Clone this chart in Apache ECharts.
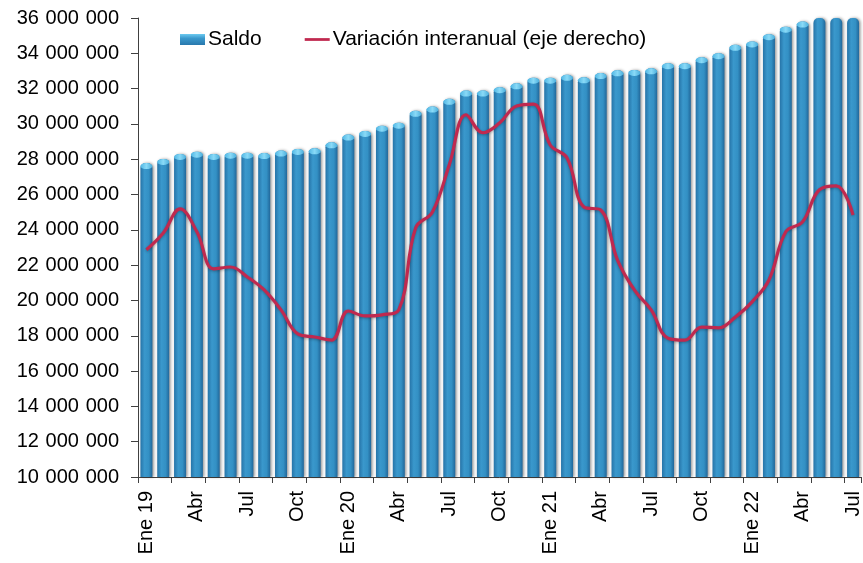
<!DOCTYPE html>
<html>
<head>
<meta charset="utf-8">
<script src="https://cdn.jsdelivr.net/npm/echarts@6/dist/echarts.min.js"></script>
<style>
  html, body { margin: 0; padding: 0; background: #fff; }
  #chart { width: 863px; height: 563px; }
</style>
</head>
<body>
<div id="chart"></div>
<script>
const categories = [
  'Ene 19','Feb 19','Mar 19','Abr 19','May 19','Jun 19','Jul 19','Ago 19','Sep 19','Oct 19','Nov 19','Dic 19',
  'Ene 20','Feb 20','Mar 20','Abr 20','May 20','Jun 20','Jul 20','Ago 20','Sep 20','Oct 20','Nov 20','Dic 20',
  'Ene 21','Feb 21','Mar 21','Abr 21','May 21','Jun 21','Jul 21','Ago 21','Sep 21','Oct 21','Nov 21','Dic 21',
  'Ene 22','Feb 22','Mar 22','Abr 22','May 22','Jun 22','Jul 22'
];

// saldo (left axis)
const saldo = [
  27780000, 28020000, 28300000, 28430000, 28300000, 28370000, 28370000, 28350000, 28490000, 28580000, 28620000, 28960000,
  29400000, 29600000, 29900000, 30070000, 30740000, 30980000, 31420000, 31890000, 31890000, 32080000, 32300000, 32620000,
  32620000, 32780000, 32640000, 32880000, 33040000, 33060000, 33150000, 33440000, 33440000, 33780000, 34010000, 34480000,
  34670000, 35080000, 35510000, 35800000, 36300000, 36600000, 36900000
];

// variación interanual, % (right axis, not drawn)
const variacion = [
  7.94, 8.38, 9.01, 8.41, 7.44, 7.49, 7.23, 6.89, 6.37, 5.74, 5.66, 5.58,
  6.34, 6.21, 6.24, 6.37, 8.51, 8.93, 10.16, 11.47, 11.0, 11.26, 11.70, 11.75,
  10.68, 10.34, 9.06, 8.98, 7.67, 6.89, 6.37, 5.63, 5.58, 5.92, 5.90, 6.18,
  6.58, 7.15, 8.41, 8.67, 9.51, 9.61, 8.85
];

const yLeftMin = 10000000, yLeftMax = 36000000, yLeftStep = 2000000;
const yRightMin = 2, yRightMax = 14;

const font = '"Liberation Sans", Arial, sans-serif';
// thousands separated by a slightly wide gap (three-per-em space), as in the original
const fmtNum = v => String(v).replace(/\B(?=(\d{3})+(?!\d))/g, '\u2004');

const chart = echarts.init(document.getElementById('chart'));

const barColor = new echarts.graphic.LinearGradient(0, 0, 1, 0, [
  { offset: 0, color: '#2674a8' },
  { offset: 0.35, color: '#3a98cc' },
  { offset: 0.7, color: '#3390c4' },
  { offset: 1, color: '#21679a' }
]);
const capColor = new echarts.graphic.LinearGradient(0, 0, 1, 0, [
  { offset: 0, color: '#4fb6e4' },
  { offset: 0.5, color: '#8adaf7' },
  { offset: 1, color: '#4aaedc' }
]);
const legendBarColor = new echarts.graphic.LinearGradient(0, 0, 0, 1, [
  { offset: 0, color: '#6ccaf0' },
  { offset: 0.4, color: '#3a98cc' },
  { offset: 1, color: '#2878ad' }
]);

chart.setOption({
  backgroundColor: '#fff',
  animation: false,
  textStyle: { fontFamily: font },
  legend: {
    top: 29,
    left: 180,
    padding: 0,
    itemWidth: 25,
    itemHeight: 11,
    itemGap: 43,
    textStyle: { fontSize: 21, color: '#000', fontFamily: font, padding: [0, 0, 0, -2] },
    data: [
      { name: 'Saldo', icon: 'rect', itemStyle: { color: legendBarColor, shadowBlur: 0, shadowOffsetX: 0 } },
      { name: 'Variación interanual (eje derecho)', icon: 'path://M0,0 L27,0 L27,3 L0,3 Z', itemStyle: { color: '#c0294f' } }
    ]
  },
  grid: { left: 138, right: -5, top: 18, bottom: 86, containLabel: false },
  xAxis: {
    type: 'category',
    data: categories,
    boundaryGap: true,
    axisLine: { show: true, lineStyle: { color: '#404040', width: 1 } },
    axisTick: { show: true, interval: 1, length: 6, lineStyle: { color: '#404040' } },
    axisLabel: {
      interval: 2,
      rotate: 90,
      margin: 14,
      fontSize: 20,
      color: '#000',
      fontFamily: font,
      formatter: v => v.startsWith('Ene') ? v : v.slice(0, 3)
    },
    splitLine: { show: false }
  },
  yAxis: [
    {
      type: 'value',
      min: yLeftMin,
      max: yLeftMax,
      interval: yLeftStep,
      axisLine: { show: true, lineStyle: { color: '#404040', width: 1 } },
      axisTick: { show: true, length: 7, lineStyle: { color: '#404040' } },
      axisLabel: { margin: 19, fontSize: 20, color: '#000', fontFamily: font, formatter: fmtNum },
      splitLine: { show: false }
    },
    {
      type: 'value',
      min: yRightMin,
      max: yRightMax,
      show: false,
      splitLine: { show: false }
    }
  ],
  series: [
    {
      name: 'Saldo',
      type: 'bar',
      data: saldo,
      barWidth: 12,
      clip: true,
      itemStyle: {
        color: barColor,
        borderRadius: [5, 5, 0, 0],
        shadowColor: 'rgba(0,0,0,0.4)',
        shadowBlur: 3,
        shadowOffsetX: 1.5
      },
      z: 2
    },
    {
      name: 'Saldo',
      type: 'pictorialBar',
      data: saldo.map(v => v > yLeftMax ? '-' : v),
      symbol: 'circle',
      symbolSize: [12, 6],
      symbolPosition: 'end',
      symbolOffset: [0, 0],
      itemStyle: { color: capColor },
      z: 3,
      silent: true,
      legendHoverLink: false
    },
    {
      name: 'Variación interanual (eje derecho)',
      type: 'line',
      yAxisIndex: 1,
      data: variacion,
      smooth: 0.4,
      symbol: 'none',
      lineStyle: {
        color: '#c0294f',
        width: 3.2,
        shadowColor: 'rgba(0,0,0,0.3)',
        shadowBlur: 3,
        shadowOffsetY: 1
      },
      itemStyle: { color: '#c0294f' },
      z: 5
    }
  ]
});
</script>
</body>
</html>
